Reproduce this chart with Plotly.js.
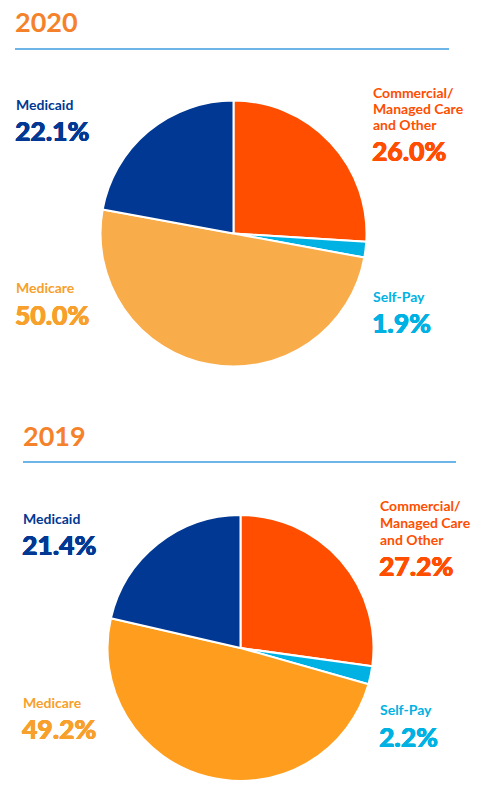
<!DOCTYPE html>
<html>
<head>
<meta charset="utf-8">
<script src="https://cdn.plot.ly/plotly-3.0.1.min.js"></script>
<style>html,body{margin:0;padding:0;background:#fff;}#chart{width:478px;height:799px;}</style>
</head>
<body>
<div id="chart"></div>
<script>
// ---- data ----
var years = ["2020", "2019"];
var categories = ["Commercial/ Managed Care and Other", "Self-Pay", "Medicare", "Medicaid"];
var values2020 = [26.0, 1.9, 50.0, 22.1];
var values2019 = [27.2, 2.2, 49.2, 21.4];
var labelLines = [["Commercial/", "Managed Care", "and Other"], ["Self-Pay"], ["Medicare"], ["Medicaid"]];

// ---- styles ----
var W = 478, H = 799;
var sliceColors2020 = ["#FF4E00", "#00B2E3", "#F9AC4A", "#003893"];
var sliceColors2019 = ["#FF4E00", "#00B2E3", "#FF9E1E", "#003893"];
var labelColors = ["#FF4E00", "#00B2E3", "#F7A02B", "#003893"];
var titleColor = "#F5822A";
var ruleColor = "#3D9BE0";
var FONT = "Lato, 'Open Sans', sans-serif";
var PAD = 2.5; // annotation box inset

function px(x) { return x / W; }
function py(y) { return 1 - y / H; }

function pieDomain(cx, cy, r) {
  return { x: [px(cx - r), px(cx + r)], y: [py(cy + r), py(cy - r)] };
}

var panels = [
  { values: values2020, colors: sliceColors2020, cx: 233.5, cy: 233.5, r: 133,
    titleX: 15, titleY: 21, rule: [15, 449, 49],
    left: 16, right: 373,
    labelY: [93, 296, 287, 104], valueY: [151, 323, 315, 131], lineGap: 16 },
  { values: values2019, colors: sliceColors2019, cx: 240.5, cy: 648, r: 133,
    titleX: 23, titleY: 435, rule: [23, 456, 462],
    left: 23, right: 380,
    labelY: [506, 709, 702, 518], valueY: [566, 737, 729, 545], lineGap: 16.5 }
];

var data = [];
var annotations = [];
var shapes = [];

panels.forEach(function (p, k) {
  data.push({
    type: "pie",
    labels: categories,
    values: p.values,
    sort: false,
    direction: "clockwise",
    rotation: 0,
    textinfo: "none",
    hoverinfo: "label+percent",
    marker: { colors: p.colors, line: { color: "#ffffff", width: 2 } },
    domain: pieDomain(p.cx, p.cy, p.r),
    showlegend: false
  });

  annotations.push({
    xref: "paper", yref: "paper", x: px(p.titleX - PAD), y: py(p.titleY),
    xanchor: "left", yanchor: "middle", showarrow: false,
    text: years[k],
    font: { family: FONT, size: 27, color: titleColor, weight: 700 }
  });

  shapes.push({
    type: "line", xref: "paper", yref: "paper",
    x0: px(p.rule[0]), x1: px(p.rule[1]), y0: py(p.rule[2]), y1: py(p.rule[2]),
    line: { color: ruleColor, width: 1.6 }
  });

  categories.forEach(function (c, i) {
    var xLeft = (i === 0 || i === 1) ? p.right : p.left;
    labelLines[i].forEach(function (line, j) {
      annotations.push({
        xref: "paper", yref: "paper", x: px(xLeft - PAD), y: py(p.labelY[i] + j * p.lineGap),
        xanchor: "left", yanchor: "middle", showarrow: false,
        text: line,
        font: { family: FONT, size: 14, color: labelColors[i], weight: 700 }
      });
    });
    var col = labelColors[i];
    annotations.push({
      xref: "paper", yref: "paper", x: px(xLeft - PAD - 0.5), y: py(p.valueY[i]),
      xanchor: "left", yanchor: "middle", showarrow: false,
      text: p.values[i].toFixed(1) + "%",
      font: { family: FONT, size: 26.5, color: col, weight: 900,
              shadow: "0.5px 0 0 " + col + ", -0.3px 0 0 " + col + ", 0 0.4px 0 " + col }
    });
  });
});

var layout = {
  width: W, height: H,
  margin: { l: 0, r: 0, t: 0, b: 0 },
  paper_bgcolor: "#ffffff",
  plot_bgcolor: "#ffffff",
  showlegend: false,
  annotations: annotations,
  shapes: shapes
};

Plotly.newPlot("chart", data, layout, { displayModeBar: false, staticPlot: true });
</script>
</body>
</html>
